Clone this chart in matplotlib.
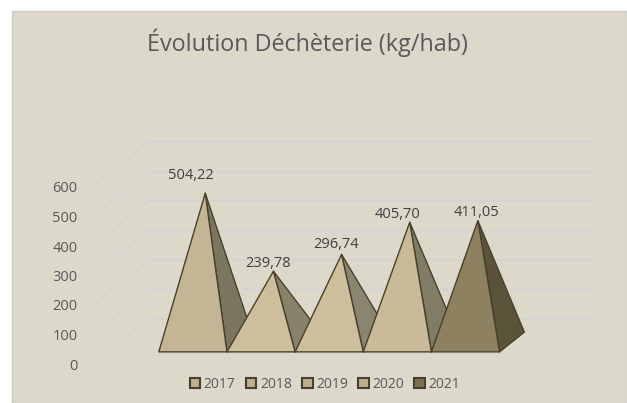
import matplotlib
matplotlib.use('Agg')
import matplotlib.pyplot as plt
from matplotlib.patches import Patch, Polygon, Rectangle

W = 627
H = 403

years = ['2017', '2018', '2019', '2020', '2021']
values = [504.22, 239.78, 296.74, 405.70, 411.05]
value_labels = ['504,22', '239,78', '296,74', '405,70', '411,05']
y_ticks = [0, 100, 200, 300, 400, 500, 600]

front_colors = ['#C4B595', '#CDBF9B', '#CDBF9B', '#C9BB98', '#8E8160']
side_colors = ['#7A7660', '#88826A', '#8A8570', '#807C66', '#5A533A']
legend_colors = ['#BDB08F', '#BDB08F', '#BDB08F', '#BDB08F', '#7C7252']

# hand placed labels in the original, offset from the apex in pixels
label_dx = [-14, -5, -6, -12, -1]
label_dy = [18, 8, 10, 8, 8]

BG = '#DCD9CB'
EDGE = '#47412B'
GRID = '#D2D3D8'
TEXT = '#595959'
FONT = 'Open Sans'

# fake 3d: depth 0 is the front of the floor, depth 1 the back wall
DX = 0.865
DY = 159.6
D_FRONT = 0.30
D_BACK = 0.72
D_MID = 0.51


def proj(x, value, depth):
    return (x + DX * depth, value + DY * depth)


fig = plt.figure(figsize=(W / 100, H / 100), dpi=100, facecolor='white')
fig.add_artist(Rectangle((12 / W, 0), 1 - 12 / W, 1 - 11 / H, transform=fig.transFigure,
                         facecolor=BG, edgecolor='#C9C9C6', linewidth=1, zorder=-5))

ax = fig.add_axes([90 / W, 1 - 366 / H, 443 / W, 177 / H])
ax.patch.set_alpha(0)
ax.set_xlim(-1.25, 5.25)
ax.set_ylim(0, 600)
for s in ax.spines.values():
    s.set_visible(False)
ax.set_xticks([])
ax.set_yticks(y_ticks)
ax.tick_params(axis='y', length=0, pad=9, labelsize=10.5, labelcolor=TEXT)
for t in ax.get_yticklabels():
    t.set_fontfamily(FONT)
    t.set_verticalalignment('center')

# walls
for v in y_ticks:
    x0, y0 = proj(-1.25, v, 0)
    x1, y1 = proj(-1.25, v, 1)
    x2, y2 = proj(5.25, v, 1)
    ax.plot([x0, x1, x2], [y0, y1, y2], color=GRID, lw=1.1, clip_on=False, zorder=1)

for i, v in enumerate(values):
    apex = proj(i, v, D_MID)
    fl = proj(i - 0.5, 0, D_FRONT)
    fr = proj(i + 0.5, 0, D_FRONT)
    br = proj(i + 0.5, 0, D_BACK)
    ax.add_patch(Polygon([fr, br, apex], closed=True, facecolor=side_colors[i], edgecolor=EDGE,
                         lw=1, joinstyle='round', clip_on=False, zorder=2 + i))
    ax.add_patch(Polygon([fl, fr, apex], closed=True, facecolor=front_colors[i], edgecolor=EDGE,
                         lw=1, joinstyle='round', clip_on=False, zorder=2 + i))
    ax.annotate(value_labels[i], xy=apex, xytext=(label_dx[i] * 0.72, label_dy[i] * 0.72),
                textcoords='offset points', ha='center', va='center', fontsize=10.5,
                color='#404040', family=FONT, zorder=10, annotation_clip=False)

fig.text(307.5 / W, 1 - 43 / H, 'Évolution Déchèterie (kg/hab)', ha='center', va='center',
         fontsize=16.8, color=TEXT, family=FONT)

handles = [Patch(facecolor=c, edgecolor=EDGE, lw=1.5) for c in legend_colors]
fig.legend(handles, years, loc='center', bbox_to_anchor=(325 / W, 1 - 384 / H), ncol=5, frameon=False,
           prop={'family': FONT, 'size': 10}, labelcolor=TEXT, handlelength=0.75, handleheight=0.75,
           handletextpad=0.25, columnspacing=0.75, borderpad=0)

fig.savefig('out.png', dpi=100)
